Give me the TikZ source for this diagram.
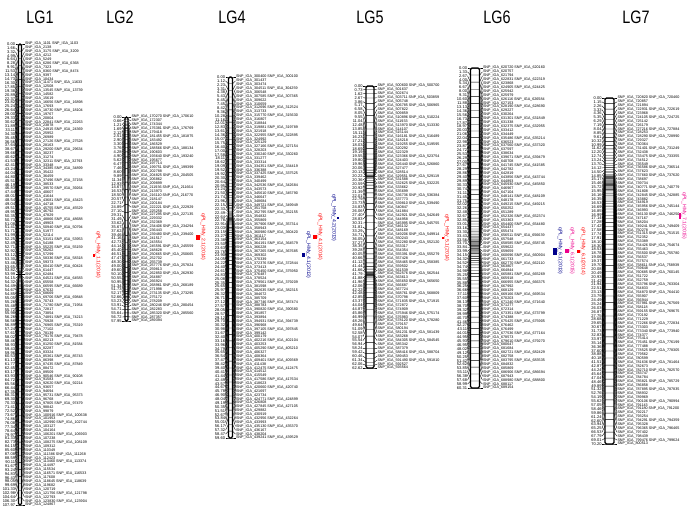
\documentclass[tikz,border=0pt]{standalone}
\usepackage{fontspec}
\setmainfont{Liberation Sans}
\usetikzlibrary{positioning}
\definecolor{qnavy}{RGB}{0,0,139}

\tikzset{
  title/.style={font=\fontsize{18}{18}\selectfont, xscale=0.8, inner sep=0pt},
  cmlab/.style={font=\fontsize{4}{4}\selectfont, anchor=east, inner sep=0.3pt},
  snplab/.style={font=\fontsize{3.7}{3.7}\selectfont, anchor=west, inner sep=0.3pt},
  conn/.style={line width=0.35pt},
  chrom/.style={line width=1.1pt, rounded corners=1.5pt},
  qbox/.style={draw=none, inner sep=0pt},
  qtext/.style={font=\fontsize{5.1}{5.1}\selectfont, rotate=-90, inner sep=0.4pt},
  /pgf/number format/assume math mode=true
}

% half width of the bar, set before each group
\def\hw{2}
% #1 name, #2 bar x, #3 top, #4 bottom, #5 length (cM), #6 first id, #7 id step, #8 waves, #9 phase
\newcommand{\lgmap}[9]{%
  \pgfmathtruncatemacro{\nlast}{round((#4-#3)/3.9)}
  \pgfmathsetmacro{\camp}{0.82/(2*pi*#8)}
  \draw[chrom] (#2-\hw,#3) rectangle (#2+\hw,#4);
  \foreach \i in {0,...,\nlast}{
    \pgfmathsetmacro{\tp}{\i/\nlast}
    \pgfmathsetmacro{\fp}{\tp+\camp*(sin(360*#8*\tp+#9)-sin(#9)-\tp*(sin(360*#8+#9)-sin(#9)))}
    \pgfmathsetmacro{\yl}{#3+\tp*(#4-#3)}
    \pgfmathsetmacro{\yb}{#3+\fp*(#4-#3)}
    \pgfmathsetmacro{\cmv}{\fp*#5}
    \pgfmathtruncatemacro{\ka}{#6+\i*#7}
    \pgfmathtruncatemacro{\ma}{100+mod(\i*37+#6,900)}
    \pgfmathtruncatemacro{\mb}{100+mod(\i*53+3*#6,900)}
    \pgfmathtruncatemacro{\two}{mod(\i*7+#6,5)<2}
    \node[cmlab] (#1l\i) at (#2-\hw-3,\yl) {\pgfmathprintnumber[fixed,precision=2,zerofill]{\cmv}};
    \ifnum\two=1
      \node[snplab] (#1r\i) at (#2+\hw+3,\yl) {SNP\_IGA\_\ka\ma\ SNP\_IGA\_\ka\mb};
    \else
      \node[snplab] (#1r\i) at (#2+\hw+3,\yl) {SNP\_IGA\_\ka\ma};
    \fi
    \coordinate (#1a\i) at (#2-\hw,\yb);
    \coordinate (#1b\i) at (#2+\hw,\yb);
    \draw[conn] (#1l\i.east) -- (#1a\i) -- (#1b\i) -- (#1r\i.west);
  }
}

\begin{document}
\begin{tikzpicture}[x=1pt,y=-1pt]
  \useasboundingbox (0,0) rectangle (691,508);

  % group titles
  \node[title] (lg1) at (40,17) {LG1};
  \node[title] (lg2) at (120,17) {LG2};
  \node[title] (lg4) at (232,17) {LG4};
  \node[title] (lg5) at (370,17) {LG5};
  \node[title] (lg6) at (497,17) {LG6};
  \node[title] (lg7) at (636,17) {LG7};

  % linkage groups
  \def\hw{1.5}
  \lgmap{g1}{20}{44}{505}{107.97}{1}{1.05}{1}{0}
  \def\hw{1.5}
  \lgmap{g2}{126.5}{117}{321}{57.95}{170}{2.3}{1.39}{130}
  \def\hw{2}
  \lgmap{g4}{230.5}{77}{438}{59.60}{300}{1.5}{1}{22}
  \def\hw{4}
  \lgmap{g5}{370}{86}{368}{62.62}{500}{1.3}{2.6}{-101}
  \def\hw{4.5}
  \lgmap{g6}{475}{68}{388}{60.31}{620}{0.85}{1}{-11}
  \def\hw{4.5}
  \lgmap{g7}{609.5}{98}{444}{70.20}{720}{0.9}{1}{54}

  % QTL
  \node[qbox, fill=red, minimum width=2pt, minimum height=3pt] (q1) at (94,255) {};
  \node[qtext, red, anchor=south] (q1t) at (q1.east) {qPL\_HMy\_1.1(2014)};

  \node[qbox, fill=red, minimum width=4pt, minimum height=5pt] (q2) at (198,237) {};
  \node[qtext, red, anchor=south] (q2t) at (q2.east) {qPL\_HMy\_2.1(2014)};

  \node[qbox, fill=qnavy, minimum width=3.5pt, minimum height=4pt] (q4a) at (303.5,255) {};
  \node[qtext, qnavy, anchor=south] (q4at) at (q4a.east) {qPL\_HMy\_4.1(2013)};
  \node[qbox, fill=red, minimum width=4pt, minimum height=4pt] (q4b) at (315,237) {};
  \node[qtext, red, anchor=south] (q4bt) at (q4b.east) {qPL\_HMy\_4.1(2014)};
  \node[qbox, fill=qnavy, minimum width=2pt, minimum height=2.5pt] (q4c) at (338,218) {};
  \node[qtext, qnavy, anchor=north] (q4ct) at (q4c.west) {qPL\_HMy\_4.2(2013)};

  \node[qbox, fill=red, minimum width=1.5pt, minimum height=2pt] (q5) at (443,238) {};
  \node[qtext, red, anchor=south] (q5t) at (q5.east) {qPL\_HMy\_5.1(2014)};

  \node[qbox, fill=qnavy, minimum width=4pt, minimum height=7pt] (q6a) at (555,251) {};
  \node[qtext, qnavy, anchor=south] (q6at) at (q6a.east) {qPL\_HMy\_6.1(2013)};
  \node[qbox, fill=magenta, minimum width=4pt, minimum height=4pt] (q6b) at (567,251) {};
  \node[qtext, magenta, anchor=south] (q6bt) at (q6b.east) {qPL\_HMy\_6.1(2015)};
  \node[qbox, fill=red, minimum width=3pt, minimum height=3pt] (q6c) at (578.5,251.5) {};
  \node[qtext, red, anchor=south] (q6ct) at (q6c.east) {qPL\_HMy\_6.1(2014)};

  \node[qbox, fill=magenta, minimum width=2pt, minimum height=6pt] (q7) at (680,216) {};
  \node[qtext, magenta, anchor=south] (q7t) at (q7.east) {qPL\_HMy\_7.1(2015)};
\end{tikzpicture}
\end{document}
